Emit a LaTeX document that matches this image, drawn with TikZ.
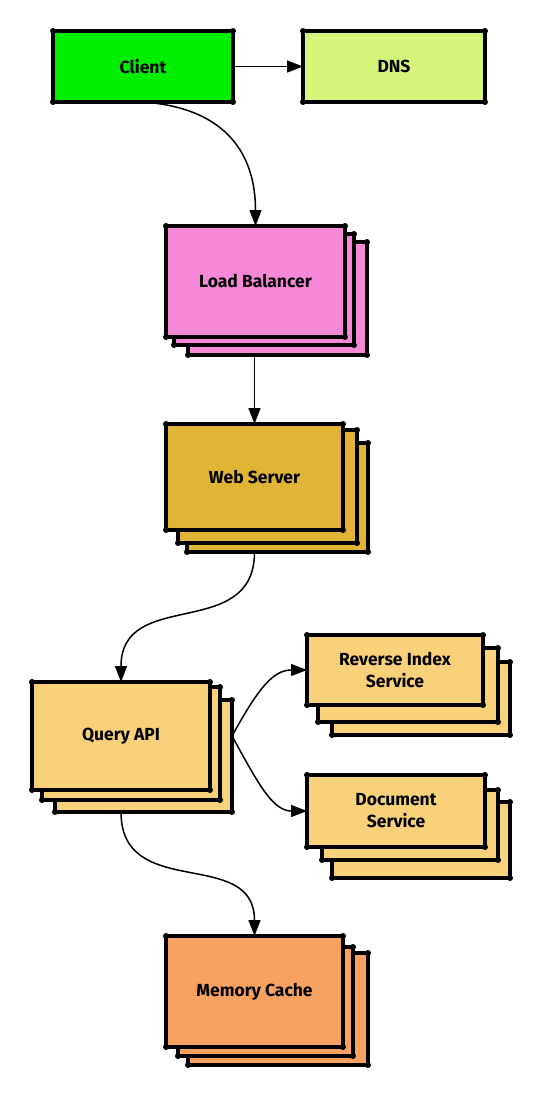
\documentclass[tikz,border=0pt]{standalone}
\usepackage{fontspec}
\setmainfont{Fira Sans}
\usetikzlibrary{arrows.meta}
\definecolor{cgreen}{HTML}{00EE00}
\definecolor{cdns}{HTML}{D5F57A}
\definecolor{cpink}{HTML}{F788D7}
\definecolor{cgold}{HTML}{E0B535}
\definecolor{clight}{HTML}{F8D17A}
\definecolor{corange}{HTML}{F8A262}
\newcommand{\cornerdots}[1]{%
  \fill (#1.north west) circle (3) (#1.north east) circle (3)
        (#1.south west) circle (3) (#1.south east) circle (3);}
\begin{document}
\begin{tikzpicture}[x=1pt,y=-1pt,
  box/.style={draw=black, line width=4.5pt, rectangle, outer sep=0pt, inner sep=2pt,
    align=center, font=\fontsize{17.5}{22}\selectfont\bfseries, text=black},
  layerbox/.style={draw=black, line width=4.5pt, rectangle, outer sep=0pt},
  conn/.style={line width=1.5pt, -{Triangle[length=16pt,width=12pt]}}]
\useasboundingbox (0,0) rectangle (542,1096);

% Client and DNS
\node[box, fill=cgreen, minimum width=180pt, minimum height=71pt] (client) at (143,66.5) {Client};
\cornerdots{client}
\node[box, fill=cdns, minimum width=182pt, minimum height=71pt] (dns) at (394,66.5) {DNS};
\cornerdots{dns}

% Load Balancer
\node[layerbox, fill=cpink, minimum width=179pt, minimum height=113pt] (lb3) at (277.5,298.5) {};
\cornerdots{lb3}
\node[layerbox, fill=cpink, minimum width=180pt, minimum height=111pt] (lb2) at (264,289.5) {};
\cornerdots{lb2}
\node[box, fill=cpink, minimum width=179pt, minimum height=111pt] (lb) at (255.5,281.5) {Load Balancer};
\cornerdots{lb}

% Web Server
\node[layerbox, fill=cgold, minimum width=181pt, minimum height=109pt] (ws3) at (277.5,497.5) {};
\cornerdots{ws3}
\node[layerbox, fill=cgold, minimum width=179pt, minimum height=113pt] (ws2) at (267.5,486.5) {};
\cornerdots{ws2}
\node[box, fill=cgold, minimum width=177pt, minimum height=106pt] (ws) at (254.5,477) {Web Server};
\cornerdots{ws}

% Query API
\node[layerbox, fill=clight, minimum width=177pt, minimum height=112pt] (qa3) at (143.5,756) {};
\cornerdots{qa3}
\node[layerbox, fill=clight, minimum width=178pt, minimum height=113pt] (qa2) at (131,743.5) {};
\cornerdots{qa2}
\node[box, fill=clight, minimum width=178pt, minimum height=108pt] (qa) at (121,736) {Query API};
\cornerdots{qa}

% Reverse Index Service
\node[layerbox, fill=clight, minimum width=178pt, minimum height=73pt] (ris3) at (421,698.5) {};
\cornerdots{ris3}
\node[layerbox, fill=clight, minimum width=180pt, minimum height=74pt] (ris2) at (408,685) {};
\cornerdots{ris2}
\node[box, fill=clight, minimum width=176pt, minimum height=70pt] (ris) at (395,670) {Reverse Index\\Service};
\cornerdots{ris}

% Document Service
\node[layerbox, fill=clight, minimum width=178pt, minimum height=76pt] (doc3) at (421,840) {};
\cornerdots{doc3}
\node[layerbox, fill=clight, minimum width=176pt, minimum height=70pt] (doc2) at (410,825) {};
\cornerdots{doc2}
\node[box, fill=clight, minimum width=178pt, minimum height=72pt] (doc) at (396,811) {Document\\Service};
\cornerdots{doc}

% Memory Cache
\node[layerbox, fill=corange, minimum width=180pt, minimum height=112pt] (mc3) at (278,1009) {};
\cornerdots{mc3}
\node[layerbox, fill=corange, minimum width=175pt, minimum height=109pt] (mc2) at (265.5,1001.5) {};
\cornerdots{mc2}
\node[box, fill=corange, minimum width=177pt, minimum height=111pt] (mc) at (254.5,991.5) {Memory Cache};
\cornerdots{mc}

% Connectors
\draw[conn] (client.south) .. controls +(85,6) and +(0,-70) .. (lb.north);
\draw[conn] (client.east) -- (dns.west);
\draw[conn] (ws.north |- lb3.south) -- (ws.north);
\draw[conn] (ws.south |- ws3.south) .. controls +(0,90) and +(0,-95) .. (qa.north);
\coordinate (qaout) at (qa3.east |- qa.east);
\draw[conn] (qaout) .. controls +(25,-45) and +(-35,0) .. (ris.west);
\draw[conn] (qaout) .. controls +(25,45) and +(-35,0) .. (doc.west);
\draw[conn] (qa.south |- qa3.south) .. controls +(0,90) and +(0,-90) .. (mc.north);
\end{tikzpicture}
\end{document}
